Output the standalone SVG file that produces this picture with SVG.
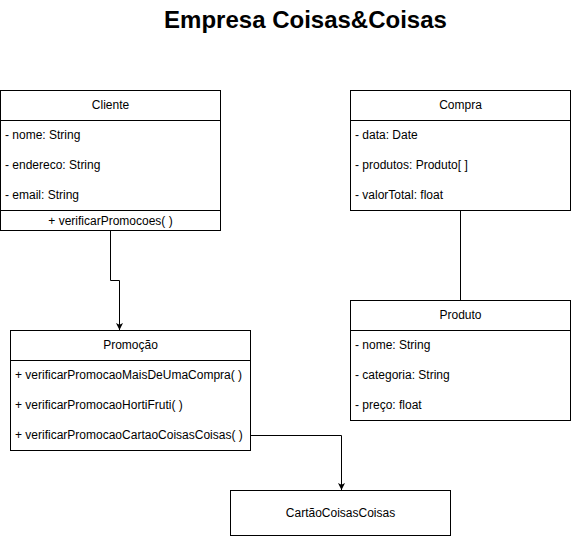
<svg xmlns="http://www.w3.org/2000/svg" width="571" height="536" viewBox="0 0 571 536">
<style>
.box{fill:#fff;stroke:#000;stroke-width:1}
.ln{fill:none;stroke:#000;stroke-width:1}
.t{font-family:"Liberation Sans",Arial,sans-serif;font-size:12px;fill:#000}
.c{text-anchor:middle}
.title{font-family:"Liberation Sans",Arial,sans-serif;font-size:24px;font-weight:bold;text-anchor:middle;fill:#000}
</style>
<defs>
<marker id="arr" viewBox="0 0 10 10" refX="10" refY="5" markerWidth="7" markerHeight="7" markerUnits="userSpaceOnUse" orient="auto">
<path d="M0,0 L10,5 L0,10 L2.5,5 Z" fill="#000"/>
</marker>
</defs>
<rect width="571" height="536" fill="#fff"/>
<text class="title" x="305.5" y="28">Empresa Coisas&amp;Coisas</text>
<g id="connectors">
<path class="ln" d="M110.5,230.5 V280.5 H119.5 V330" marker-end="url(#arr)"/>
<path class="ln" d="M250.5,435.5 H341.5 V490" marker-end="url(#arr)"/>
<path class="ln" d="M460.5,210.5 V300.5"/>
</g>
<g id="cliente">
<rect class="box" x="0.5" y="90.5" width="220" height="140"/>
<line class="ln" x1="0.5" y1="120.5" x2="220.5" y2="120.5"/>
<line class="ln" x1="0.5" y1="210.5" x2="220.5" y2="210.5"/>
<text class="t c" x="110.5" y="109">Cliente</text>
<text class="t" x="5" y="138.5">- nome: String</text>
<text class="t" x="5" y="168.5">- endereco: String</text>
<text class="t" x="5" y="198.5">- email: String</text>
<text class="t c" x="110.5" y="224.5">+ verificarPromocoes( )</text>
</g>
<g id="compra">
<rect class="box" x="350.5" y="90.5" width="220" height="120"/>
<line class="ln" x1="350.5" y1="120.5" x2="570.5" y2="120.5"/>
<text class="t c" x="460.5" y="109">Compra</text>
<text class="t" x="355" y="138.5">- data: Date</text>
<text class="t" x="355" y="168.5">- produtos: Produto[ ]</text>
<text class="t" x="355" y="198.5">- valorTotal: float</text>
</g>
<g id="produto">
<rect class="box" x="350.5" y="300.5" width="220" height="120"/>
<line class="ln" x1="350.5" y1="330.5" x2="570.5" y2="330.5"/>
<text class="t c" x="460.5" y="319">Produto</text>
<text class="t" x="355" y="348.5">- nome: String</text>
<text class="t" x="355" y="378.5">- categoria: String</text>
<text class="t" x="355" y="408.5">- preço: float</text>
</g>
<g id="promocao">
<rect class="box" x="10.5" y="330.5" width="240" height="120"/>
<line class="ln" x1="10.5" y1="360.5" x2="250.5" y2="360.5"/>
<text class="t c" x="130.5" y="349">Promoção</text>
<text class="t" x="15" y="378.5">+ verificarPromocaoMaisDeUmaCompra( )</text>
<text class="t" x="15" y="408.5">+ verificarPromocaoHortiFruti( )</text>
<text class="t" x="15" y="438.5">+ verificarPromocaoCartaoCoisasCoisas( )</text>
</g>
<g id="cartao">
<rect class="box" x="230.5" y="490.5" width="220" height="45"/>
<text class="t c" x="340.5" y="517">CartãoCoisasCoisas</text>
</g>
</svg>
